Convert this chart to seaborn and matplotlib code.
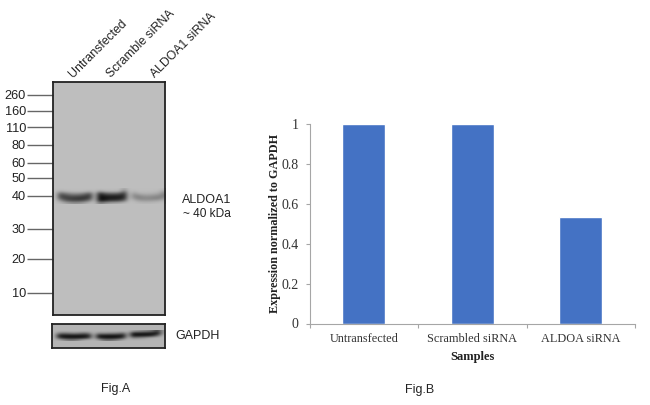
import pandas as pd
import matplotlib
matplotlib.use("Agg")
import matplotlib.pyplot as plt
import seaborn as sns

# Fig.B values
samples = ["Untransfected", "Scrambled siRNA", "ALDOA siRNA"]
expression = [1.0, 1.0, 0.535]
y_ticks = [0, 0.2, 0.4, 0.6, 0.8, 1]
y_tick_labels = ["0", "0.2", "0.4", "0.6", "0.8", "1"]

ladder_kda = ["260", "160", "110", "80", "60", "50", "40", "30", "20", "10"]
ladder_migration = [13, 29, 45.5, 63, 81, 96, 114, 147, 177, 211]
lane_labels = ["Untransfected", "Scramble siRNA", "ALDOA1 siRNA"]

# grey levels of the gel around 40 kDa, rows top to bottom
aldoa_band = [
    [190, 190, 190, 190, 190, 190, 190, 190, 190, 190, 190, 190, 190, 190, 165, 190, 190, 190, 190, 190, 190, 190, 185],
    [190, 165, 178, 182, 185, 185, 182, 170, 190, 150, 170, 175, 175, 172, 110, 190, 178, 188, 188, 188, 186, 182, 160],
    [190, 95, 115, 135, 140, 135, 115, 85, 190, 40, 80, 95, 95, 85, 50, 190, 150, 172, 176, 176, 172, 165, 135],
    [190, 70, 70, 85, 85, 80, 65, 55, 190, 15, 30, 35, 35, 35, 35, 190, 135, 135, 150, 150, 145, 135, 130],
    [190, 90, 65, 60, 55, 50, 50, 70, 190, 10, 15, 25, 25, 30, 45, 190, 150, 130, 135, 135, 130, 130, 150],
    [190, 150, 100, 80, 75, 75, 90, 130, 190, 30, 35, 60, 65, 75, 110, 190, 180, 160, 155, 155, 160, 165, 180],
    [190, 185, 170, 155, 150, 155, 170, 185, 190, 130, 150, 165, 170, 175, 185, 190, 190, 186, 184, 184, 186, 188, 190],
]
gapdh_band = [
    [180, 180, 180, 180, 180, 180, 180, 180, 180, 180, 180, 180, 180, 180, 180, 180, 160, 150, 140, 130, 110, 60, 150],
    [180, 120, 110, 120, 130, 120, 100, 120, 180, 130, 140, 130, 130, 120, 100, 170, 25, 25, 22, 20, 15, 15, 150],
    [180, 25, 20, 20, 20, 20, 20, 30, 180, 25, 20, 20, 20, 20, 20, 170, 15, 15, 18, 20, 40, 100, 175],
    [180, 60, 25, 20, 20, 20, 25, 60, 180, 40, 20, 15, 15, 25, 60, 180, 120, 130, 140, 160, 175, 180, 180],
    [180, 175, 150, 130, 130, 150, 175, 180, 180, 170, 130, 120, 130, 150, 175, 180, 180, 180, 180, 180, 180, 180, 180],
]

W, H = 650, 405


def px_axes(fig, left, top, right, bottom):
    # axes rectangle given in image pixels
    return fig.add_axes([left / W, 1 - bottom / H, (right - left) / W, (bottom - top) / H])


sns.set_theme(style="white")
plt.rcParams["font.family"] = ["Liberation Sans", "DejaVu Sans"]
fig = plt.figure(figsize=(W / 100, H / 100), dpi=100)

# Fig.A main blot
ax_blot = px_axes(fig, 53, 81.5, 165.5, 315)
ax_blot.set_facecolor("#bebebe")
ax_blot.imshow(aldoa_band, cmap="gray", vmin=0, vmax=255, aspect="auto",
               interpolation="bicubic", extent=(0, 112.5, 123, 107))
ax_blot.set_xlim(0, 112.5)
ax_blot.set_ylim(233.5, 0)
ax_blot.set_yticks(ladder_migration, ladder_kda)
ax_blot.tick_params(axis="y", length=19, width=1, color="#666666", pad=0.5,
                    labelsize=9.2, labelcolor="#222222", left=True)
ax_blot.set_xticks([22, 60, 104], lane_labels, rotation=45, ha="left", va="bottom",
                   rotation_mode="anchor", fontsize=8.8, color="#222222")
ax_blot.tick_params(axis="x", length=0, pad=1, top=True, labeltop=True, bottom=False, labelbottom=False)
for spine in ax_blot.spines.values():
    spine.set_color("#222222")
    spine.set_linewidth(1.3)

# GAPDH strip
ax_gapdh = px_axes(fig, 51.5, 324, 164.5, 347.5)
ax_gapdh.set_facecolor("#b4b4b4")
ax_gapdh.imshow(gapdh_band, cmap="gray", vmin=0, vmax=255, aspect="auto", interpolation="bicubic",
                extent=(0, 1, 0.29, 0.75))
ax_gapdh.set_xlim(0, 1)
ax_gapdh.set_ylim(0, 1)
ax_gapdh.set_xticks([])
ax_gapdh.set_yticks([])
for spine in ax_gapdh.spines.values():
    spine.set_color("#222222")
    spine.set_linewidth(1.3)

# text next to the blots
fig.text(182 / W, 1 - 200 / H, "ALDOA1", fontsize=9, color="#222222", ha="left", va="center")
fig.text(183 / W, 1 - 214 / H, "~ 40 kDa", fontsize=8.6, color="#222222", ha="left", va="center")
fig.text(175 / W, 1 - 336 / H, "GAPDH", fontsize=9, color="#222222", ha="left", va="center")
fig.text(116 / W, 1 - 389 / H, "Fig.A", fontsize=9, color="#222222", ha="center", va="center")
fig.text(420 / W, 1 - 390 / H, "Fig.B", fontsize=9, color="#222222", ha="center", va="center")

# Fig.B bar chart
ax_bar = px_axes(fig, 309.5, 124, 635, 323.5)
df = pd.DataFrame({"sample": samples, "expression": expression})
sns.barplot(data=df, x="sample", y="expression", color="#4472c4", saturation=1, width=0.4, ax=ax_bar)
ax_bar.set_xlim(-0.5, 2.5)
ax_bar.set_ylim(0, 1)
ax_bar.set_yticks(y_ticks, y_tick_labels)
ax_bar.set_xticks([-0.5, 0.5, 1.5, 2.5], minor=True)
ax_bar.tick_params(axis="x", which="minor", bottom=True, length=3, width=0.8, color="#a6a6a6")
ax_bar.tick_params(axis="x", which="major", bottom=False, length=0, pad=7, labelsize=8.8, labelcolor="#333333")
ax_bar.tick_params(axis="y", left=True, length=3, width=0.8, color="#a6a6a6", pad=5,
                   labelsize=10, labelcolor="#333333")
for label in ax_bar.get_xticklabels() + ax_bar.get_yticklabels():
    label.set_family("Liberation Serif")
ax_bar.set_xlabel("Samples", family="Liberation Serif", fontweight="bold", fontsize=9, color="#222222", labelpad=4)
ax_bar.set_ylabel("Expression normalized to GAPDH", family="Liberation Serif", fontweight="bold",
                  fontsize=8.7, color="#222222", labelpad=0)
sns.despine(ax=ax_bar)
ax_bar.spines["left"].set_color("#a6a6a6")
ax_bar.spines["bottom"].set_color("#a6a6a6")
ax_bar.spines["left"].set_linewidth(0.8)
ax_bar.spines["bottom"].set_linewidth(0.8)

fig.savefig("out.png", dpi=100)
